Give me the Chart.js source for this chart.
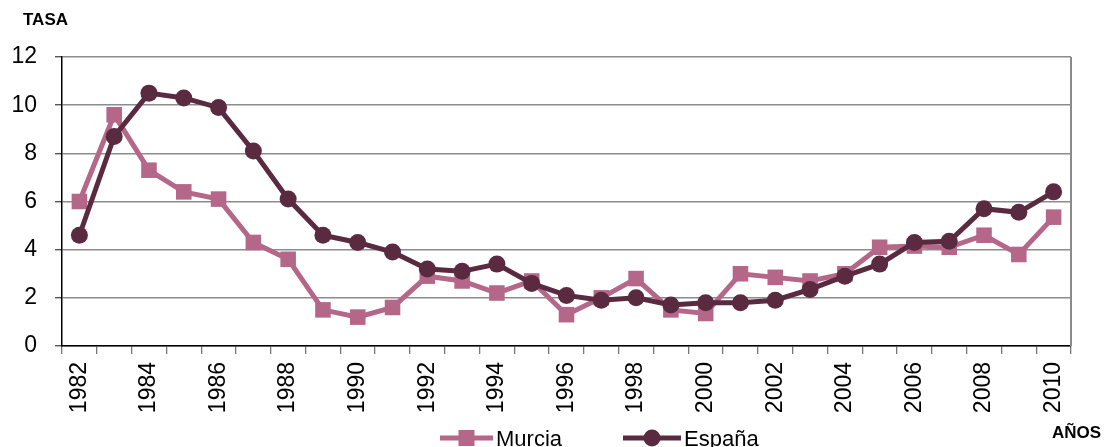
<!DOCTYPE html>
<html>
<head>
<meta charset="utf-8">
<script src="https://cdn.jsdelivr.net/npm/chart.js@4/dist/chart.umd.min.js"></script>
<style>
html,body{margin:0;padding:0;background:#fff;}
#wrap{position:relative;width:1106px;height:447px;overflow:hidden;}
canvas{display:block;}
</style>
</head>
<body>
<div id="wrap"><canvas id="c" width="1106" height="447"></canvas></div>
<script>
const years = ["1982","1983","1984","1985","1986","1987","1988","1989","1990","1991","1992","1993","1994","1995","1996","1997","1998","1999","2000","2001","2002","2003","2004","2005","2006","2007","2008","2009","2010"];
const murcia = [6.0,9.6,7.3,6.4,6.1,4.3,3.6,1.5,1.2,1.6,2.9,2.7,2.2,2.7,1.3,2.0,2.8,1.5,1.35,3.0,2.85,2.7,3.0,4.1,4.15,4.1,4.6,3.8,5.35];
const espana = [4.6,8.7,10.5,10.3,9.9,8.1,6.1,4.6,4.3,3.9,3.2,3.1,3.4,2.6,2.1,1.9,2.0,1.7,1.8,1.8,1.9,2.35,2.9,3.4,4.3,4.35,5.7,5.55,6.4];
const yTicks = [0,2,4,6,8,10,12];
const seriesNames = ["Murcia","España"];
const yTitle = "TASA";
const xTitle = "AÑOS";

const cMurcia = "#B5678A";
const cEspana = "#5A2A41";

const extras = {
  id: "extras",
  afterDraw(chart) {
    const ctx = chart.ctx;
    const a = chart.chartArea;
    ctx.save();
    ctx.strokeStyle = "#8a8a8a";
    ctx.lineWidth = 2;
    ctx.beginPath();
    ctx.moveTo(a.right, a.top);
    ctx.lineTo(a.right, a.bottom);
    ctx.stroke();
    ctx.fillStyle = "#000";
    ctx.font = "bold 17px 'Liberation Sans', Arial, sans-serif";
    ctx.textBaseline = "middle";
    ctx.textAlign = "left";
    ctx.fillText(yTitle, 23, 20);
    ctx.fillText(xTitle, 1052, 433);
    const items = [
      {x0: 440, x1: 493, label: seriesNames[0], color: cMurcia, style: "rect"},
      {x0: 623, x1: 681, label: seriesNames[1], color: cEspana, style: "circle"}
    ];
    const ly = 438;
    items.forEach(it => {
      ctx.strokeStyle = it.color;
      ctx.lineWidth = 5;
      ctx.beginPath();
      ctx.moveTo(it.x0, ly);
      ctx.lineTo(it.x1, ly);
      ctx.stroke();
      const cx = (it.x0 + it.x1) / 2;
      ctx.fillStyle = it.color;
      if (it.style === "rect") {
        ctx.fillRect(cx - 8, ly - 8, 16, 16);
      } else {
        ctx.beginPath();
        ctx.arc(cx, ly, 8.5, 0, Math.PI * 2);
        ctx.fill();
      }
      ctx.fillStyle = "#000";
      ctx.font = "22px 'Liberation Sans', Arial, sans-serif";
      ctx.textAlign = "left";
      ctx.textBaseline = "middle";
      ctx.fillText(it.label, it.x1 + 3, ly + 2);
    });
    ctx.restore();
  }
};

new Chart(document.getElementById("c"), {
  type: "line",
  data: {
    labels: years,
    datasets: [
      {
        label: seriesNames[0],
        data: murcia,
        borderColor: cMurcia,
        backgroundColor: cMurcia,
        borderWidth: 5,
        pointStyle: "rect",
        pointRadius: 11,
        pointHoverRadius: 11,
        pointBorderWidth: 0,
        tension: 0,
        order: 1
      },
      {
        label: seriesNames[1],
        data: espana,
        borderColor: cEspana,
        backgroundColor: cEspana,
        borderWidth: 5,
        pointStyle: "circle",
        pointRadius: 8.5,
        pointHoverRadius: 8.5,
        pointBorderWidth: 0,
        tension: 0,
        order: 0
      }
    ]
  },
  options: {
    responsive: false,
    animation: false,
    devicePixelRatio: 1,
    layout: { padding: { left: 0, top: 57, right: 35, bottom: 0 } },
    plugins: {
      legend: { display: false },
      tooltip: { enabled: false },
      title: { display: false }
    },
    scales: {
      x: {
        type: "category",
        offset: true,
        grid: {
          offset: true,
          drawOnChartArea: false,
          tickLength: 8,
          color: "#777",
          lineWidth: 1.3
        },
        border: { color: "#000", width: 1.5 },
        ticks: {
          autoSkip: false,
          minRotation: 90,
          maxRotation: 90,
          padding: 8,
          color: "#000",
          font: { family: "'Liberation Sans', Arial, sans-serif", size: 23 },
          callback: function(v, i) { return i % 2 === 0 ? this.getLabelForValue(v) : ""; }
        },
        afterFit(s) { s.height = 101; }
      },
      y: {
        min: 0,
        max: 12,
        afterBuildTicks(s) { s.ticks = yTicks.map(v => ({ value: v })); },
        grid: {
          color: "#8c8c8c",
          lineWidth: 1.4,
          tickLength: 7,
          tickColor: "#555"
        },
        border: { color: "#000", width: 1.5 },
        ticks: {
          padding: 18,
          color: "#000",
          font: { family: "'Liberation Sans', Arial, sans-serif", size: 23 }
        },
        afterFit(s) { s.width = 62; }
      }
    }
  },
  plugins: [extras]
});
</script>
</body>
</html>
